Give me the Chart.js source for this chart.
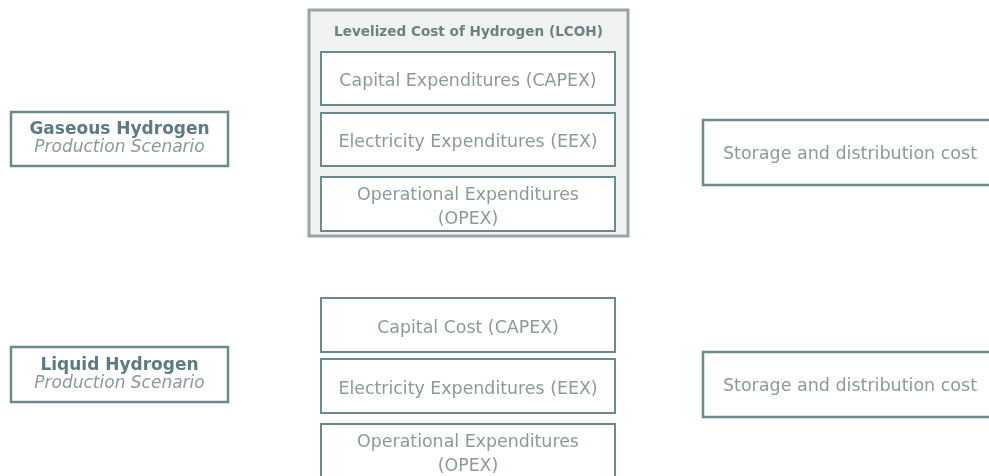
<!DOCTYPE html>
<html>
<head>
<meta charset="utf-8">
<script src="https://cdn.jsdelivr.net/npm/chart.js@4"></script>
<style>
html,body{margin:0;padding:0;background:#fff;}
#wrap{width:989px;height:476px;}
</style>
</head>
<body>
<div id="wrap"><canvas id="c" width="989" height="476"></canvas></div>
<script>
// ---- content (text) ----
const scenarioNames = ['Gaseous Hydrogen', 'Liquid Hydrogen'];
const scenarioSubtitle = 'Production Scenario';
const lcohTitle = 'Levelized Cost of Hydrogen (LCOH)';
const gaseousCostItems = ['Capital Expenditures (CAPEX)', 'Electricity Expenditures (EEX)', 'Operational Expenditures|(OPEX)'];
const liquidCostItems = ['Capital Cost (CAPEX)', 'Electricity Expenditures (EEX)', 'Operational Expenditures|(OPEX)'];
const storageLabels = ['Storage and distribution cost', 'Storage and distribution cost'];

// ---- layout (diagram grid in value units of the hidden axes) ----
const layout = {
  scenarioX: [11, 228],
  scenarioY: [[112, 166], [347, 402]],
  costX: [321, 615],
  costY: [[[52, 105], [113, 166], [177, 231]], [[298, 352], [359, 413], [424, 478]]],
  outerBox: { x: [309, 628], y: [10, 236] },
  storageX: [703, 995],
  storageY: [[120, 185], [352, 417]]
};
const style = {
  border: '#6a8a8e',
  text: '#8b9a9b',
  boldText: '#5c7b82',
  titleText: '#6d8084',
  outerBorder: '#98a4a6',
  outerFill: '#f0f1f1',
  font: '"DejaVu Sans", Verdana, sans-serif'
};

const diagramPlugin = {
  id: 'diagram',
  afterDraw(chart) {
    const ctx = chart.ctx, xs = chart.scales.x, ys = chart.scales.y;
    const X = v => xs.getPixelForValue(v), Y = v => ys.getPixelForValue(v);
    function rect(xr, yr, stroke, lw, fill) {
      const x0 = X(xr[0]), x1 = X(xr[1]), y0 = Y(yr[0]), y1 = Y(yr[1]);
      ctx.save();
      if (fill) { ctx.fillStyle = fill; ctx.fillRect(x0, y0, x1 - x0, y1 - y0); }
      ctx.strokeStyle = stroke; ctx.lineWidth = lw;
      ctx.strokeRect(x0, y0, x1 - x0, y1 - y0);
      ctx.restore();
    }
    function text(str, cx, cy, font, color) {
      ctx.save();
      ctx.font = font; ctx.fillStyle = color;
      ctx.textAlign = 'center'; ctx.textBaseline = 'middle';
      ctx.fillText(str, X(cx), Y(cy));
      ctx.restore();
    }
    function multiline(str, xr, yr, font, color, lh, dy) {
      const lines = str.split('|');
      const cx = (xr[0] + xr[1]) / 2, cy = (yr[0] + yr[1]) / 2 + (dy || 0);
      const start = cy - (lines.length - 1) * lh / 2;
      lines.forEach((l, i) => text(l, cx, start + i * lh, font, color));
    }
    // outer LCOH box
    rect(layout.outerBox.x, layout.outerBox.y, style.outerBorder, 3, style.outerFill);
    text(lcohTitle, (layout.outerBox.x[0] + layout.outerBox.x[1]) / 2, 32, 'bold 13.6px ' + style.font, style.titleText);

    // scenario boxes
    scenarioNames.forEach((name, i) => {
      const yr = layout.scenarioY[i];
      rect(layout.scenarioX, yr, style.border, 2.5, '#fff');
      const cx = (layout.scenarioX[0] + layout.scenarioX[1]) / 2;
      const cy = (yr[0] + yr[1]) / 2;
      text(name, cx, cy - 9, 'bold 17px ' + style.font, style.boldText);
      text(scenarioSubtitle, cx, cy + 9, 'italic 17px ' + style.font, style.text);
    });

    // cost boxes
    [gaseousCostItems, liquidCostItems].forEach((items, s) => {
      items.forEach((label, k) => {
        const yr = layout.costY[s][k];
        rect(layout.costX, yr, style.border, 2, '#fff');
        multiline(label, layout.costX, yr, '17.4px ' + style.font, style.text, 24, 3);
      });
    });

    // storage boxes
    storageLabels.forEach((label, i) => {
      const yr = layout.storageY[i];
      rect(layout.storageX, yr, style.border, 2.5, '#fff');
      text(label, 850, (yr[0] + yr[1]) / 2 + 2, '17.5px ' + style.font, style.text);
    });
  }
};

new Chart(document.getElementById('c'), {
  type: 'scatter',
  data: { datasets: [{ data: [], pointRadius: 0 }] },
  options: {
    responsive: false,
    animation: false,
    layout: { padding: 0 },
    plugins: { legend: { display: false }, tooltip: { enabled: false } },
    scales: {
      x: { type: 'linear', min: 0, max: 989, display: false },
      y: { type: 'linear', min: 0, max: 476, reverse: true, display: false }
    }
  },
  plugins: [diagramPlugin]
});
</script>
</body>
</html>
